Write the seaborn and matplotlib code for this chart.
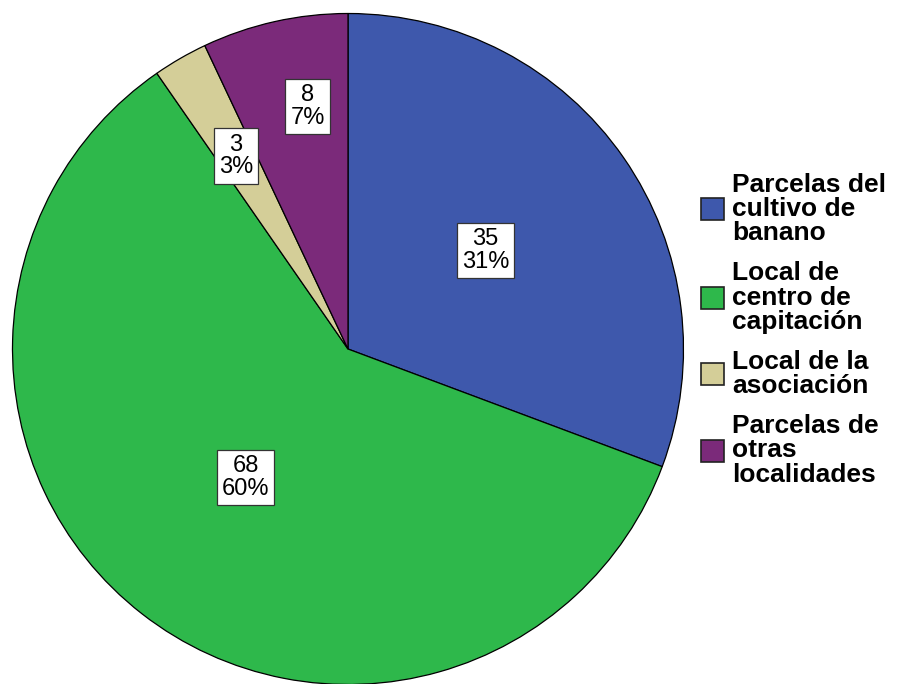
import numpy as np
import matplotlib
matplotlib.use('Agg')
import matplotlib.pyplot as plt
import seaborn as sns

sns.set_theme(style='white')
plt.rcParams['font.family'] = ['Liberation Sans', 'DejaVu Sans']
plt.rcParams['text.color'] = 'black'

# data
categories = ['Parcelas del\ncultivo de\nbanano',
              'Local de\ncentro de\ncapitación',
              'Local de la\nasociación',
              'Parcelas de\notras\nlocalidades']
counts = [35, 68, 3, 8]
percents = [31, 60, 3, 7]
colors = ['#3E58AC', '#2EB84B', '#D4CE98', '#7B2A7A']

fig = plt.figure(figsize=(9.03, 6.84), dpi=100)
ax = fig.add_axes([12.5 / 903, -0.5 / 684, 671 / 903, 671 / 684])

wedges, _ = ax.pie(counts, colors=colors, startangle=90, counterclock=False,
                   radius=1, wedgeprops=dict(edgecolor='black', linewidth=0.9))
ax.set_xlim(-1, 1)
ax.set_ylim(-1, 1)
ax.set_aspect('equal')
ax.axis('off')

# label placement: distance from center and small angle nudge, per slice
label_r = [0.504, 0.49, 0.665, 0.733]
label_da = [0.9, -0.7, 0.1, -3.2]
for w, n, p, r, da in zip(wedges, counts, percents, label_r, label_da):
    mid = np.deg2rad((w.theta1 + w.theta2) / 2 + da)
    ax.text(r * np.cos(mid), r * np.sin(mid), f'{n}\n{p}%',
            ha='center', va='center', fontsize=17, linespacing=1.05,
            bbox=dict(boxstyle='square,pad=0.22', fc='white', ec='#333333', lw=0.9))

leg = fig.legend(wedges, categories, loc='center left', bbox_to_anchor=(0.776, 0.518),
                 frameon=False, borderpad=0, borderaxespad=0,
                 prop=dict(weight='bold', size=19),
                 handlelength=0.9, handleheight=0.9, handletextpad=0.3,
                 labelspacing=0.6)
for t in leg.get_texts():
    t.set_linespacing(1.02)
for h in leg.legend_handles:
    h.set_edgecolor('#222222')
    h.set_linewidth(1.2)

fig.savefig('out.png', dpi=100)
